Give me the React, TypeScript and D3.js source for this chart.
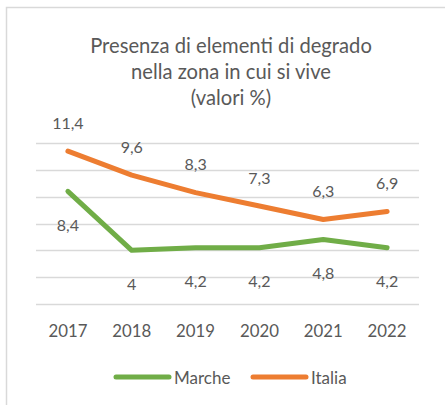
import React, { useEffect, useRef } from 'react';
import * as d3 from 'd3';

const years = ['2017', '2018', '2019', '2020', '2021', '2022'];
const marche = [8.4, 4, 4.2, 4.2, 4.8, 4.2];
const italia = [11.4, 9.6, 8.3, 7.3, 6.3, 6.9];
const yTicks = [0, 2, 4, 6, 8, 10, 12];
const titleLines = ['Presenza di elementi di degrado', 'nella zona in cui si vive', '(valori %)'];

const App = () => {
  const ref = useRef<SVGSVGElement | null>(null);

  useEffect(() => {
    const width = 445;
    const height = 405;
    const font = 'Lato, "Open Sans", sans-serif';
    const textColor = '#595959';

    const svg = d3.select(ref.current);
    svg.selectAll('*').remove();

    svg.append('rect')
      .attr('width', width).attr('height', height).attr('fill', '#fff');

    // chart area border (only top + left visible)
    svg.append('rect')
      .attr('x', 6.5).attr('y', 7.5)
      .attr('width', 460).attr('height', 420)
      .attr('fill', 'none')
      .attr('stroke', '#d9d9d9')
      .attr('stroke-width', 1.5);

    const x = d3.scaleBand().domain(years).range([36, 419]);
    const cx = (d: string) => (x(d) as number) + x.bandwidth() / 2;
    const y = d3.scaleLinear().domain([0, 12]).range([304, 143]);

    // title
    svg.append('g')
      .selectAll('text')
      .data(titleLines)
      .enter()
      .append('text')
      .attr('x', 231)
      .attr('y', (d, i) => 45 + i * 26)
      .attr('text-anchor', 'middle')
      .attr('dominant-baseline', 'central')
      .attr('font-family', font)
      .attr('font-size', 20.2)
      .attr('fill', textColor)
      .text(d => d);

    // gridlines
    svg.append('g')
      .selectAll('line')
      .data(yTicks)
      .enter()
      .append('line')
      .attr('x1', 36).attr('x2', 419)
      .attr('y1', d => Math.round(y(d)) + 0.5)
      .attr('y2', d => Math.round(y(d)) + 0.5)
      .attr('stroke', '#d9d9d9')
      .attr('stroke-width', 1.5);

    // x axis labels
    svg.append('g')
      .selectAll('text')
      .data(years)
      .enter()
      .append('text')
      .attr('x', d => cx(d))
      .attr('y', 330)
      .attr('text-anchor', 'middle')
      .attr('dominant-baseline', 'central')
      .attr('font-family', font)
      .attr('font-size', 16.8)
      .attr('fill', textColor)
      .text(d => d);

    const series = [
      { name: 'Marche', values: marche, color: '#70ad47', offset: 33 },
      { name: 'Italia', values: italia, color: '#ed7d31', offset: -29 },
    ];

    const line = d3.line<number>()
      .x((d, i) => cx(years[i]))
      .y(d => y(d));

    series.forEach(s => {
      svg.append('path')
        .datum(s.values)
        .attr('d', line)
        .attr('fill', 'none')
        .attr('stroke', s.color)
        .attr('stroke-width', 5)
        .attr('stroke-linecap', 'round')
        .attr('stroke-linejoin', 'round');

      svg.append('g')
        .selectAll('text')
        .data(s.values)
        .enter()
        .append('text')
        .attr('x', (d, i) => cx(years[i]))
        .attr('y', d => y(d) + s.offset)
        .attr('text-anchor', 'middle')
        .attr('dominant-baseline', 'central')
        .attr('font-family', font)
        .attr('font-size', 16)
        .attr('fill', textColor)
        .text(d => String(d).replace('.', ','));
    });

    // legend
    const legend = [
      { name: 'Marche', color: '#70ad47', x1: 116, x2: 169, tx: 174 },
      { name: 'Italia', color: '#ed7d31', x1: 253, x2: 306, tx: 311 },
    ];
    legend.forEach(l => {
      svg.append('line')
        .attr('x1', l.x1).attr('x2', l.x2)
        .attr('y1', 377).attr('y2', 377)
        .attr('stroke', l.color)
        .attr('stroke-width', 5)
        .attr('stroke-linecap', 'round');
      svg.append('text')
        .attr('x', l.tx)
        .attr('y', 377)
        .attr('dominant-baseline', 'central')
        .attr('font-family', font)
        .attr('font-size', 17)
        .attr('fill', textColor)
        .text(l.name);
    });
  }, []);

  return (
    <svg
      ref={ref}
      width={445}
      height={405}
      style={{ position: 'absolute', left: 0, top: 0 }}
    />
  );
};

export default App;
